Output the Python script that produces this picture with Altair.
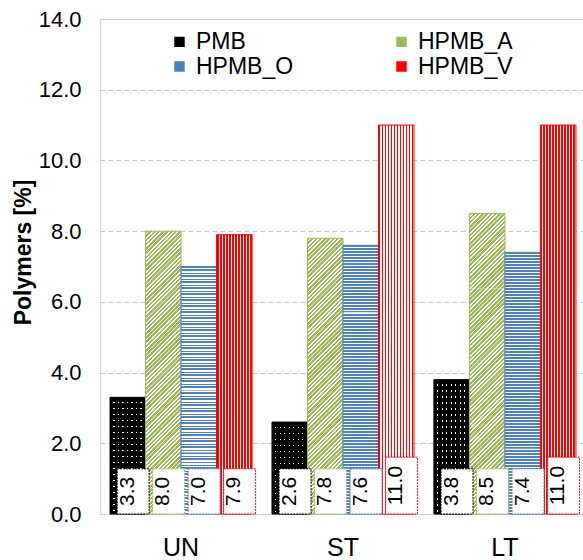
import math
import altair as alt
import pandas as pd

# ---------------- data ----------------
categories = ["UN", "ST", "LT"]
series_names = ["PMB", "HPMB_A", "HPMB_O", "HPMB_V"]
pmb = [3.3, 2.6, 3.8]
hpmb_a = [8.0, 7.8, 8.5]
hpmb_o = [7.0, 7.6, 7.4]
hpmb_v = [7.9, 11.0, 11.0]
y_ticks = [0, 2, 4, 6, 8, 10, 12, 14]
series_colors = ["#000000", "#9bbb59", "#4f81bd", "#ff0000"]
# legend entries are laid out column by column
legend_order = ["PMB", "HPMB_O", "HPMB_A", "HPMB_V"]

values = dict(zip(series_names, [pmb, hpmb_a, hpmb_o, hpmb_v]))
color_of = dict(zip(series_names, series_colors))

# ---------------- layout / style ----------------
PLOT_W, PLOT_H = 483, 495
Y_MAX = 14
PPU = PLOT_H / Y_MAX
X_RANGE = 486
PAD_IN, PAD_OUT = 0.123, 0.062
STEP = X_RANGE / (len(categories) - PAD_IN + 2 * PAD_OUT)
BAR_W = STEP * (1 - PAD_IN) / len(series_names)
LABEL_SIZE = 21
FONT = "Liberation Sans"
NSEG = 4  # pattern tiles per bar (keeps each gradient short)


def text_len(s, size):
    return sum(0.556 if ch.isdigit() else 0.278 for ch in s) * size


rows = []
seg_rows = []
for s in series_names:
    for c, v in zip(categories, values[s]):
        lab = f"{v:.1f}"
        top_px = text_len(lab, LABEL_SIZE) + 16
        rows.append(dict(cat=c, series=s, value=v, label=lab,
                         box_top=top_px / PPU, mid=top_px / 2 / PPU))
        for i in range(NSEG):
            seg_rows.append(dict(cat=c, series=s, seg=i,
                                 lo=v * i / NSEG, hi=v * (i + 1) / NSEG))
df = pd.DataFrame(rows)
df_seg = pd.DataFrame(seg_rows)


# ---------------- pattern fills (gradients with hard stops) ----------------
def stripes(c1, c2, length, period, frac, x2, y2, phase=0.0):
    """Hard-stop stripes, fixed pixel period, along a gradient of given pixel length.
    phase = global position of the gradient start (for seamless tiling)."""
    stops = []
    k = math.floor(phase / period)
    end = phase + length
    while k * period < end:
        g0 = k * period
        g1 = g0 + frac * period
        g2 = g0 + period
        for g, col in ((g0, c1), (g1, c1), (g1, c2), (g2, c2)):
            off = min(1.0, max(0.0, (g - phase) / length))
            stops.append({"offset": round(off, 5), "color": col})
        k += 1
    return {"gradient": "linear", "x1": 0, "y1": 0, "x2": x2, "y2": y2, "stops": stops}


def diag(h, w, period, c1, c2, phase=0.0):
    r = w / h
    k = (1 + r) / (1 + r * r)
    L = (w + h) / math.sqrt(2)
    return stripes(c1, c2, L, period, 0.6, r * k, k, phase)


def per_bar(series, fn):
    vals = values[series]
    conds = [{"test": f"datum.cat === '{c}'", "value": fn(v * PPU)}
             for c, v in zip(categories[:-1], vals[:-1])]
    return alt.value(fn(vals[-1] * PPU), condition=conds)


def per_seg(series, fn):
    """fn(segment_height_px, distance_of_segment_top_from_bar_top_px) -> gradient"""
    items = []
    for c, v in zip(categories, values[series]):
        hs = v * PPU / NSEG
        for i in range(NSEG):
            d = (NSEG - 1 - i) * hs
            items.append((f"datum.cat === '{c}' && datum.seg === {i}", fn(hs, d)))
    conds = [{"test": t, "value": g} for t, g in items[:-1]]
    return alt.value(items[-1][1], condition=conds)


fill_pmb_base = stripes("#000000", "#ffffff", BAR_W, 4.5, 0.72, 1, 0)
fill_pmb_top = per_bar("PMB", lambda h: stripes("#000000", "rgba(0,0,0,0)", h, 6.0, 0.8, 0, 1))
fill_a = per_seg("HPMB_A", lambda hs, d: diag(hs, BAR_W, 3.0, "#9bbb59", "#ffffff", d / math.sqrt(2)))
fill_o = per_seg("HPMB_O", lambda hs, d: stripes("#4f81bd", "#ffffff", hs, 3.0, 0.5, 0, 1, d))
fill_v = stripes("#ff0000", "#ffffff", BAR_W, 3.0, 0.65, 1, 0)

# ---------------- encodings ----------------
x_enc = alt.X("cat:N", sort=categories,
              scale=alt.Scale(domain=categories, range=[0, X_RANGE],
                              paddingInner=PAD_IN, paddingOuter=PAD_OUT),
              axis=alt.Axis(title=None, labelAngle=0, ticks=False, domain=False, grid=False,
                            labelFont=FONT, labelFontSize=25, labelColor="#000000",
                            labelPadding=21))
xoff_enc = alt.XOffset("series:N", sort=series_names,
                       scale=alt.Scale(domain=series_names, paddingInner=0, paddingOuter=0))
y_scale = alt.Scale(domain=[0, Y_MAX], nice=False, zero=True)
y_axis = alt.Axis(values=y_ticks, format=".1f", ticks=False, domain=False,
                  labelFont=FONT, labelFontSize=22, labelColor="#000000", labelPadding=19,
                  title="Polymers [%]", titleFont=FONT, titleFontSize=23, titleFontWeight="bold",
                  titleColor="#000000", titleAngle=270, titleAlign="center",
                  titleBaseline="middle", titleX=-77, titleY=233,
                  gridColor="#c6c6c6", gridDash=[5, 3], gridWidth=1)

stroke_enc = alt.Stroke(
    "series:N",
    scale=alt.Scale(domain=legend_order, range=[color_of[s] for s in legend_order]),
    legend=alt.Legend(orient="none", legendX=68, legendY=11, columns=2, columnPadding=94,
                      rowPadding=-10, title=None, symbolType="square", symbolSize=30,
                      symbolStrokeWidth=5, labelFont=FONT, labelFontSize=23,
                      labelColor="#000000", labelOffset=5, padding=0),
)

base = alt.Chart(df)
base_seg = alt.Chart(df_seg)


def bar_layer(series, fill, stroke=True):
    enc = dict(x=x_enc, xOffset=xoff_enc,
               y=alt.Y("value:Q", scale=y_scale, axis=y_axis),
               fill=fill)
    if stroke:
        enc["stroke"] = stroke_enc
    return (base.transform_filter(f"datum.series === '{series}'")
            .mark_bar(strokeWidth=1, fillOpacity=1)
            .encode(**enc))


def tiled_layer(series, fill):
    return (base_seg.transform_filter(f"datum.series === '{series}'")
            .mark_bar(strokeWidth=0, fillOpacity=1)
            .encode(x=x_enc, xOffset=xoff_enc,
                    y=alt.Y("lo:Q", scale=y_scale, axis=y_axis),
                    y2="hi:Q", fill=fill))


def outline_layer(series):
    return (base.transform_filter(f"datum.series === '{series}'")
            .mark_bar(strokeWidth=1, fill="#ffffff", fillOpacity=0)
            .encode(x=x_enc, xOffset=xoff_enc,
                    y=alt.Y("value:Q", scale=y_scale, axis=y_axis),
                    stroke=stroke_enc))


pmb_base = bar_layer("PMB", alt.value(fill_pmb_base), stroke=False)
pmb_top = bar_layer("PMB", fill_pmb_top)
a_tiles = tiled_layer("HPMB_A", fill_a)
a_line = outline_layer("HPMB_A")
o_tiles = tiled_layer("HPMB_O", fill_o)
o_line = outline_layer("HPMB_O")
v_layer = bar_layer("HPMB_V", alt.value(fill_v))

boxes = base.mark_bar(fill="#ffffff", fillOpacity=1, strokeWidth=1, strokeDash=[2, 1],
                      width=alt.RelativeBandSize(0.9)).encode(
    x=x_enc, xOffset=xoff_enc,
    y=alt.Y("box_top:Q", scale=y_scale, axis=y_axis),
    stroke=stroke_enc,
)

texts = base.mark_text(angle=270, font=FONT, fontSize=LABEL_SIZE, color="#000000",
                       align="center", baseline="middle").encode(
    x=x_enc, xOffset=xoff_enc,
    y=alt.Y("mid:Q", scale=y_scale, axis=y_axis),
    text="label:N",
)

chart = alt.layer(pmb_base, pmb_top, a_tiles, a_line, o_tiles, o_line, v_layer,
                  boxes, texts).properties(
    width=PLOT_W, height=PLOT_H,
    autosize=alt.AutoSizeParams(type="none"),
    padding={"left": 100, "top": 19, "right": 0, "bottom": 46},
).configure_view(stroke="#d9d9d9", strokeWidth=1)

chart.save("out.html", embed_options={"renderer": "svg", "actions": False})
